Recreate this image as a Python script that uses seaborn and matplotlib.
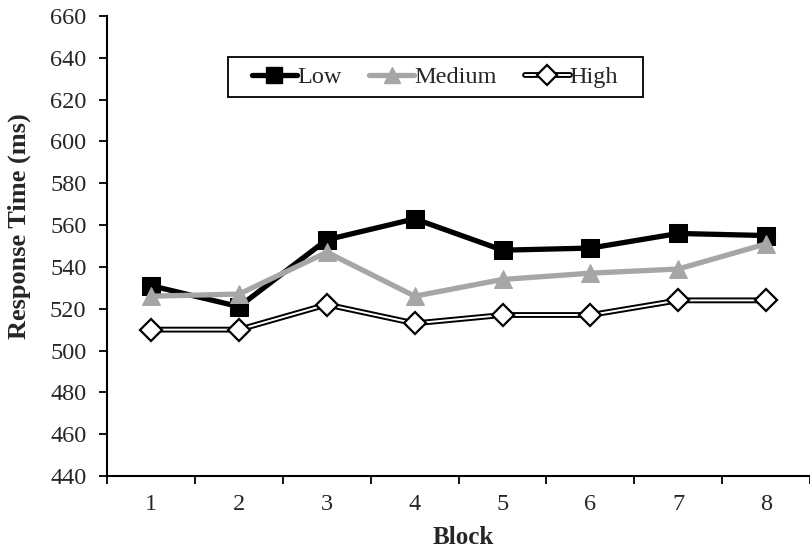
# Response time by block, three load conditions
import numpy as np
import pandas as pd
import matplotlib
matplotlib.use("Agg")
import matplotlib.pyplot as plt
import seaborn as sns

# ---- data ----
blocks = [1, 2, 3, 4, 5, 6, 7, 8]
low = [531, 521, 553, 563, 548, 549, 556, 555]
medium = [526, 527, 547, 526, 534, 537, 539, 551]
high = [510, 510, 522, 513, 517, 517, 524, 524]
y_ticks = [440, 460, 480, 500, 520, 540, 560, 580, 600, 620, 640, 660]

df = pd.DataFrame({"Block": blocks, "Low": low, "Medium": medium, "High": high})

sns.set_style("white")
plt.rcParams["font.family"] = ["Liberation Serif", "DejaVu Serif"]
FS = 17.5

fig = plt.figure(figsize=(8.1, 5.5), dpi=100)
ax = fig.add_axes([107.3 / 810, 1 - 476 / 550, 1 - 107.3 / 810, (476 - 16) / 550])

gray = "#A6A6A6"

# Low
sns.lineplot(data=df, x="Block", y="Low", ax=ax, color="black", linewidth=3.8,
             marker="s", markersize=12.5, markerfacecolor="black",
             markeredgecolor="black", zorder=3)
# Medium
sns.lineplot(data=df, x="Block", y="Medium", ax=ax, color=gray, linewidth=3.8,
             marker="^", markersize=13, markerfacecolor=gray,
             markeredgecolor=gray, zorder=4)
# High: double line (thick black under thin white)
sns.lineplot(data=df, x="Block", y="High", ax=ax, color="black", linewidth=4.2,
             zorder=2)
sns.lineplot(data=df, x="Block", y="High", ax=ax, color="white", linewidth=1.4,
             marker="D", markersize=11, markerfacecolor="white",
             markeredgecolor="black", markeredgewidth=1.6, zorder=2.5)

# the reference's plot area runs past the right edge of the picture
ax.set_xlim(0.5, 0.5 + (810 - 107.3) / 89)
ax.set_ylim(440, 660)
ax.set_yticks(y_ticks)

# ticks between categories, labels at category centres
ax.set_xticks(np.arange(0.5, 8.6, 1))
ax.set_xticklabels([])
ax.set_xticks(blocks, minor=True)
ax.set_xticklabels([str(b) for b in blocks], minor=True)
ax.tick_params(axis="x", which="major", direction="out", length=6, width=1.3,
               color="black", bottom=True)
ax.tick_params(axis="x", which="minor", length=0, pad=13, labelsize=FS)
ax.tick_params(axis="y", direction="out", length=6, width=1.3, color="black",
               left=True, pad=9, labelsize=FS)

for s in ["top", "right"]:
    ax.spines[s].set_visible(False)
for s in ["left", "bottom"]:
    ax.spines[s].set_color("black")
    ax.spines[s].set_linewidth(1.5)

ax.set_xlabel("Block", fontweight="bold", fontsize=18)
ax.set_ylabel("Response Time (ms)", fontweight="bold", fontsize=19)
ax.xaxis.set_label_coords(0.506, -0.108)
ax.yaxis.set_label_coords(-0.108, 0.543)

# ---- legend (frame drawn separately so its padding matches) ----
h_low = plt.Line2D([], [], color="black", lw=3.8, marker="s", markersize=11)
h_med = plt.Line2D([], [], color=gray, lw=3.8, marker="^", markersize=12)
h_high_bg = plt.Line2D([], [], color="black", lw=4.2)
h_high_fg = plt.Line2D([], [], color="white", lw=1.4, marker="D", markersize=10,
                       markerfacecolor="white", markeredgecolor="black",
                       markeredgewidth=1.6)
leg = ax.legend([h_low, h_med, (h_high_bg, h_high_fg)], ["Low", "Medium", "High"],
                ncol=3, loc="center left",
                bbox_to_anchor=(252 / 810, 1 - 77 / 550),
                bbox_transform=fig.transFigure, borderaxespad=0,
                frameon=False, borderpad=0,
                handlelength=1.85, handletextpad=0.0, columnspacing=1.15,
                fontsize=FS)
frame = plt.Rectangle((228 / 810, 1 - 97 / 550), (643 - 228) / 810, 40 / 550,
                      transform=fig.transFigure, fill=False, edgecolor="black",
                      linewidth=1.3, zorder=5)
fig.patches.append(frame)

fig.savefig("out.png", dpi=100)
